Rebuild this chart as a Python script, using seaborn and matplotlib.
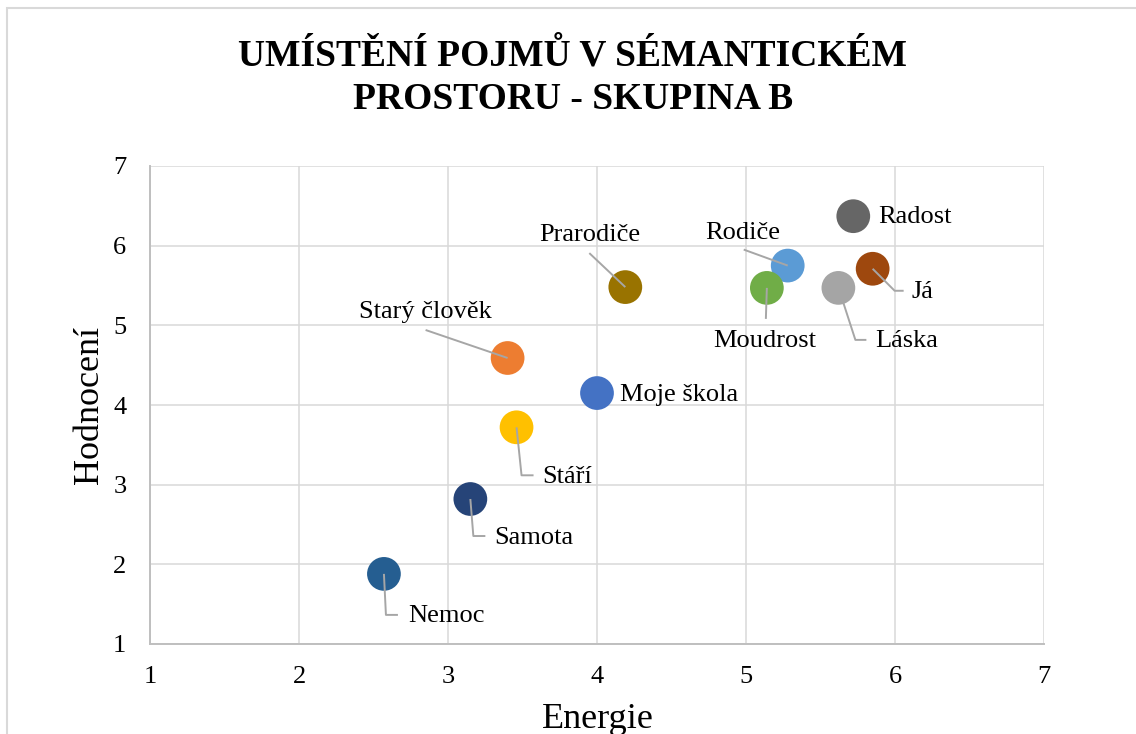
import numpy as np
import pandas as pd
import matplotlib
matplotlib.use("Agg")
import matplotlib.pyplot as plt
import matplotlib.patches as mpatches
import seaborn as sns

# data
concepts = ["Radost", "Já", "Láska", "Rodiče", "Moudrost", "Prarodiče",
            "Starý člověk", "Moje škola", "Stáří", "Samota", "Nemoc"]
energie = [5.72, 5.85, 5.62, 5.28, 5.14, 4.19, 3.40, 4.00, 3.46, 3.15, 2.57]
hodnoceni = [6.37, 5.71, 5.47, 5.75, 5.47, 5.48, 4.59, 4.15, 3.72, 2.82, 1.88]
colors = ["#666666", "#9E480E", "#A5A5A5", "#5B9BD5", "#70AD47", "#997300",
          "#ED7D31", "#4472C4", "#FFC000", "#264478", "#255E91"]
ticks = [1, 2, 3, 4, 5, 6, 7]
title_lines = ["UMÍSTĚNÍ POJMŮ V SÉMANTICKÉM", "PROSTORU - SKUPINA B"]

# label placement in pixels relative to the marker (x right, y down):
# (text dx, text dy, ha, leader line vertices)
label_layout = {
    "Radost": (25, 1, "left", None),
    "Já": (39, 23, "left", [(0, 0), (22, 22), (31, 22)]),
    "Láska": (37, 53, "left", [(5, 15), (17, 52), (28, 52)]),
    "Rodiče": (-45, -33, "center", [(-44, -16), (0, 0)]),
    "Moudrost": (-2, 53, "center", [(0, 0), (-1, 31)]),
    "Prarodiče": (-36, -52, "center", [(-36, -34), (0, 0)]),
    "Starý člověk": (-82, -46, "center", [(-82, -28), (0, 0)]),
    "Moje škola": (23, 2, "left", None),
    "Stáří": (26, 50, "left", [(0, 0), (5, 48), (17, 48)]),
    "Samota": (24, 39, "left", [(0, 0), (3, 37), (15, 37)]),
    "Nemoc": (24, 42, "left", [(0, 0), (2, 41), (14, 41)]),
}

sns.set_theme(style="white")
plt.rcParams["font.family"] = ["Liberation Serif", "DejaVu Serif"]
plt.rcParams["text.color"] = "black"

df = pd.DataFrame({"concept": concepts, "Energie": energie, "Hodnocení": hodnoceni})
palette = dict(zip(concepts, colors))

fig = plt.figure(figsize=(11.36, 7.34), dpi=100)
ax = fig.add_axes([150 / 1136, 90 / 734, 894 / 1136, 478 / 734])

sns.scatterplot(data=df, x="Energie", y="Hodnocení", hue="concept",
                palette=palette, s=590, linewidth=0, legend=False,
                ax=ax, zorder=3)

ax.set_xlim(1, 7)
ax.set_ylim(1, 7)
ax.set_xticks(ticks)
ax.set_yticks(ticks)
ax.tick_params(axis="both", length=0, labelsize=19, colors="black")
ax.tick_params(axis="x", pad=16)
ax.tick_params(axis="y", pad=17)
ax.grid(True, color="#D9D9D9", linewidth=1.1, zorder=0)
ax.set_axisbelow(True)
for side in ["top", "right"]:
    ax.spines[side].set_visible(False)
for side in ["left", "bottom"]:
    ax.spines[side].set_color("#BFBFBF")
    ax.spines[side].set_linewidth(1.4)
ax.set_xlabel("")
ax.set_ylabel("")


def offset_point(x, y, dx, dy):
    disp = ax.transData.transform((x, y))
    return ax.transData.inverted().transform((disp[0] + dx, disp[1] - dy))


for name, x, y in zip(concepts, energie, hodnoceni):
    tdx, tdy, ha, path = label_layout[name]
    if path is not None:
        pts = np.array([offset_point(x, y, px, py) for px, py in path])
        ax.plot(pts[:, 0], pts[:, 1], color="#A6A6A6", linewidth=1.4,
                zorder=4, solid_capstyle="butt")
    tx, ty = offset_point(x, y, tdx, tdy)
    ax.text(tx, ty, name, ha=ha, va="center", fontsize=19, color="black",
            zorder=5)

fig.text(573 / 1136, 1 - 66 / 734, title_lines[0], ha="center",
         va="baseline", fontsize=27, fontweight="bold", color="black")
fig.text(573 / 1136, 1 - 109 / 734, title_lines[1], ha="center",
         va="baseline", fontsize=27, fontweight="bold", color="black")
fig.text(598 / 1136, 1 - 728 / 734, "Energie", ha="center", va="baseline",
         fontsize=26, color="black")
fig.text(98 / 1136, 1 - 405 / 734, "Hodnocení", ha="center", va="baseline",
         rotation=90, rotation_mode="anchor", fontsize=26, color="black")

border = mpatches.Rectangle((7 / 1136, -0.1), 1.2, 1.1 - 8 / 734,
                            transform=fig.transFigure, fill=False,
                            edgecolor="#D9D9D9", linewidth=1.5)
fig.patches.append(border)

fig.savefig("out.png", dpi=100)
